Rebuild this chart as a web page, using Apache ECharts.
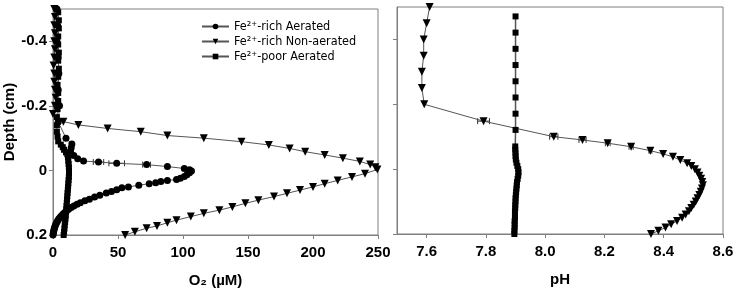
<!DOCTYPE html>
<html>
<head>
<meta charset="utf-8">
<script src="https://cdn.jsdelivr.net/npm/echarts@6/dist/echarts.min.js"></script>
<style>
  html, body { margin: 0; padding: 0; background: #fff; }
  #plot { width: 737px; height: 293px; }
</style>
</head>
<body>
<div id="plot"></div>
<script>
// 系列名称
var seriesNames = ['Fe²⁺-rich Aerated', 'Fe²⁺-rich Non-aerated', 'Fe²⁺-poor Aerated'];

// 左图 O2 —— Fe-rich Aerated (圆点)
var richAerDepth = [-0.5, -0.45, -0.4, -0.35, -0.3, -0.25, -0.2, -0.15, -0.1, -0.082, -0.07, -0.06, -0.046, -0.036,
  -0.029, -0.026, -0.022, -0.018, -0.012, -0.006, -0.002, 0.002, 0.007, 0.013, 0.019, 0.024, 0.028, 0.031, 0.034,
  0.038, 0.041, 0.046, 0.051, 0.054, 0.06, 0.065, 0.07, 0.077, 0.082, 0.089, 0.094, 0.1, 0.105, 0.11, 0.115, 0.12,
  0.125, 0.13, 0.135, 0.14, 0.145, 0.15, 0.155, 0.16, 0.165, 0.17, 0.175, 0.18, 0.185, 0.19, 0.195, 0.2];
var richAerO2 = [3, 3.5, 3, 4, 4.5, 4, 5, 4, 10, 14.5, 14, 13.5, 16, 19,
  23.5, 35, 49, 72, 88, 101, 105, 106.5, 105, 103, 101, 98, 95, 88, 83,
  79, 74, 66, 58, 53, 49, 45, 41, 36, 32, 28, 24.5, 21, 18.5, 16, 14, 12,
  10.5, 9, 7.7, 6.5, 5.5, 4.5, 3.7, 3, 2.4, 1.8, 1.4, 1, 0.7, 0.4, 0.2, 0];

// 左图 O2 —— Fe-rich Non-aerated (倒三角)
var richNonDepth = [-0.5, -0.475, -0.45, -0.425, -0.4, -0.375, -0.35, -0.325, -0.3, -0.275, -0.25, -0.225, -0.2, -0.175,
  -0.151, -0.141, -0.13, -0.12, -0.108, -0.1, -0.089, -0.079, -0.068, -0.058, -0.048, -0.038, -0.028, -0.018, -0.01, -0.003,
  0.01, 0.02, 0.031, 0.041, 0.051, 0.061, 0.071, 0.081, 0.092, 0.102, 0.113, 0.123, 0.133, 0.143, 0.154, 0.162, 0.172,
  0.179, 0.19, 0.2];
var richNonO2 = [1, 1.5, 1, 1.5, 1, 1.5, 1, 0.5, 1, 1, 1.5, 2, 1.5, 0,
  8, 19.5, 42, 67.5, 88, 116, 145, 166, 182, 194, 209, 223, 236, 244, 248, 249.5,
  240, 230, 219, 209, 200, 190, 180, 170, 158, 148, 138, 128, 116, 106, 95, 88, 80,
  72, 63, 55.5];

// 左图 O2 —— Fe-poor Aerated (方块)
var poorAerDepth = [-0.49, -0.465, -0.44, -0.415, -0.39, -0.365, -0.34, -0.315, -0.29, -0.265, -0.24, -0.215, -0.19,
  -0.165, -0.14, -0.12, -0.105, -0.09, -0.08, -0.072, -0.064, -0.056, -0.05, -0.04, -0.03, -0.02, -0.01, 0, 0.01,
  0.02, 0.03, 0.04, 0.05, 0.06, 0.07, 0.08, 0.09, 0.1, 0.11, 0.12, 0.13, 0.14, 0.15, 0.16, 0.17, 0.18, 0.19, 0.2];
var poorAerO2 = [4, 4.5, 4.5, 4, 4, 4.5, 4, 4.5, 4, 3.5, 4, 4, 3.5,
  3, 3, 3, 3.5, 4, 6, 7.5, 8.5, 10, 11, 11.5, 11.8, 12, 12.2, 12.3, 12.3,
  12.2, 12, 11.8, 11.6, 11.4, 11.2, 11, 10.8, 10.6, 10.4, 10.2, 10, 9.8, 9.6, 9.3, 9, 8.8, 8.5, 8.2];

// 右图 pH —— Fe-rich Non-aerated
var phNonDepth = [-0.5, -0.45, -0.4, -0.35, -0.3, -0.25, -0.2, -0.148, -0.1, -0.09, -0.08, -0.069, -0.057, -0.047,
  -0.038, -0.028, -0.018, -0.01, 0, 0.01, 0.02, 0.03, 0.04, 0.05, 0.06, 0.07, 0.08, 0.09, 0.1, 0.11, 0.12, 0.13,
  0.14, 0.15, 0.16, 0.17, 0.18, 0.19, 0.2];
var phNonVal = [7.61, 7.6, 7.59, 7.59, 7.584, 7.584, 7.592, 7.792, 8.029, 8.126, 8.211, 8.29, 8.355, 8.398,
  8.431, 8.456, 8.479, 8.493, 8.505, 8.514, 8.52, 8.526, 8.53, 8.532, 8.529, 8.525, 8.52, 8.514, 8.508, 8.501, 8.493, 8.485,
  8.474, 8.462, 8.445, 8.425, 8.406, 8.382, 8.357];

// 右图 pH —— Fe-poor Aerated
var phPoorDepth = [-0.471, -0.421, -0.371, -0.321, -0.271, -0.221, -0.171, -0.121, -0.07, -0.06, -0.05, -0.04, -0.03,
  -0.02, -0.01, 0, 0.01, 0.02, 0.03, 0.04, 0.05, 0.06, 0.07, 0.08, 0.09, 0.1, 0.11, 0.12, 0.13, 0.14, 0.15, 0.16,
  0.17, 0.18, 0.19, 0.2];
var phPoorVal = [7.9, 7.9, 7.9, 7.9, 7.9, 7.9, 7.9, 7.9, 7.899, 7.899, 7.9, 7.9, 7.901,
  7.903, 7.906, 7.909, 7.91, 7.909, 7.907, 7.905, 7.904, 7.903, 7.902, 7.901, 7.9, 7.9, 7.899, 7.899, 7.898, 7.898, 7.898, 7.897,
  7.897, 7.897, 7.896, 7.896];

// 误差线
var errO2Depth = [-0.026, -0.022, -0.018];
var errO2Mid = [35, 49, 72];
var errO2Half = [4, 6, 3];
var errPhDepth = [-0.148, -0.1, -0.09, -0.08, -0.069, -0.057];
var errPhMid = [7.792, 8.029, 8.126, 8.211, 8.29, 8.355];
var errPhHalf = [0.02, 0.014, 0.012, 0.008, 0.007, 0.005];

// 刻度
var depthTicks = [-0.4, -0.2, 0, 0.2];
var phTicks = [7.6, 7.8, 8.0, 8.2, 8.4, 8.6];

function pts(xs, ds) {
  return xs.map(function (x, i) { return [x, ds[i]]; });
}
function errPts(mid, half, ds) {
  return mid.map(function (m, i) { return [m - half[i], m + half[i], ds[i]]; });
}

var myChart = echarts.init(document.getElementById('plot'));

var lblFont = "'Liberation Sans', Arial, sans-serif";
var lblSize = 15;
var axisGray = '#7f7f7f';

function xAxisCfg(idx, extra) {
  return Object.assign({
    gridIndex: idx,
    type: 'value',
    axisLine: { show: true, onZero: false, lineStyle: { color: axisGray } },
    axisTick: { show: true, inside: false, length: 4, lineStyle: { color: axisGray } },
    axisLabel: { color: '#000', fontFamily: lblFont, fontWeight: 'bold', fontSize: lblSize, margin: 10 },
    splitLine: { show: false },
    nameLocation: 'middle',
    nameGap: 38,
    nameTextStyle: { color: '#000', fontFamily: lblFont, fontWeight: 'bold', fontSize: lblSize }
  }, extra);
}

function yAxisCfg(idx, showLabel, extra) {
  return Object.assign({
    gridIndex: idx,
    type: 'value',
    inverse: true,
    min: -0.5,
    max: 0.2,
    axisLine: { show: true, onZero: false, lineStyle: { color: axisGray } },
    axisTick: { show: true, inside: false, length: 4, customValues: depthTicks, lineStyle: { color: axisGray } },
    axisLabel: {
      show: showLabel,
      customValues: depthTicks,
      color: '#000', fontFamily: lblFont, fontWeight: 'bold', fontSize: lblSize, margin: 6,
      formatter: function (v) { return v === 0 ? '0' : v.toFixed(1); }
    },
    splitLine: { show: false }
  }, extra);
}

function errSeries(name, xi, yi, data) {
  return {
    name: name + ' err',
    type: 'custom',
    xAxisIndex: xi,
    yAxisIndex: yi,
    silent: true,
    z: 1,
    data: data,
    renderItem: function (params, api) {
      var a = api.coord([api.value(0), api.value(2)]);
      var b = api.coord([api.value(1), api.value(2)]);
      var st = { stroke: '#333', lineWidth: 1 };
      return {
        type: 'group',
        children: [
          { type: 'line', shape: { x1: a[0], y1: a[1], x2: b[0], y2: b[1] }, style: st },
          { type: 'line', shape: { x1: a[0], y1: a[1] - 3, x2: a[0], y2: a[1] + 3 }, style: st },
          { type: 'line', shape: { x1: b[0], y1: b[1] - 3, x2: b[0], y2: b[1] + 3 }, style: st }
        ]
      };
    }
  };
}

function lineSeries(name, xi, yi, data, symbol, size, rotate, lw) {
  return {
    name: name,
    type: 'line',
    xAxisIndex: xi,
    yAxisIndex: yi,
    data: data,
    symbol: symbol,
    symbolSize: size,
    symbolRotate: rotate,
    showAllSymbol: true,
    animation: false,
    z: 3,
    itemStyle: { color: '#000' },
    lineStyle: { color: '#555', width: lw || 1 }
  };
}

var option = {
  animation: false,
  grid: [
    { left: 53, right: 359, top: 9, bottom: 57, show: true, borderColor: axisGray, borderWidth: 1 },
    { left: 397, right: 14, top: 7, bottom: 59, show: true, borderColor: axisGray, borderWidth: 1 }
  ],
  legend: {
    data: seriesNames,
    orient: 'vertical',
    left: 196,
    top: 15,
    itemWidth: 27,
    itemHeight: 7,
    itemGap: 2,
    textStyle: { color: '#000', fontFamily: "'DejaVu Sans Condensed', 'DejaVu Sans', sans-serif", fontSize: 12.5, lineHeight: 9, padding: [0, 0, 0, 0] }
  },
  xAxis: [
    xAxisCfg(0, { min: 0, max: 250, interval: 50, name: 'O₂ (µM)' }),
    xAxisCfg(1, {
      min: 7.5, max: 8.6, name: 'pH',
      axisTick: { show: true, inside: false, length: 4, customValues: phTicks, lineStyle: { color: axisGray } },
      axisLabel: {
        customValues: phTicks, color: '#000', fontFamily: lblFont, fontWeight: 'bold', fontSize: lblSize, margin: 10,
        formatter: function (v) { return v.toFixed(1); }
      }
    })
  ],
  yAxis: [
    yAxisCfg(0, true, {
      name: 'Depth (cm)', nameLocation: 'middle', nameGap: 35,
      nameTextStyle: { color: '#000', fontFamily: lblFont, fontWeight: 'bold', fontSize: lblSize }
    }),
    yAxisCfg(1, false, {})
  ],
  series: [
    lineSeries(seriesNames[0], 0, 0, pts(richAerO2, richAerDepth), 'circle', 7, 0),
    lineSeries(seriesNames[1], 0, 0, pts(richNonO2, richNonDepth), 'triangle', 8, 180),
    lineSeries(seriesNames[2], 0, 0, pts(poorAerO2, poorAerDepth), 'rect', 6, 0),
    lineSeries(seriesNames[1], 1, 1, pts(phNonVal, phNonDepth), 'triangle', 8, 180),
    lineSeries(seriesNames[2], 1, 1, pts(phPoorVal, phPoorDepth), 'rect', 6, 0, 1.5),
    errSeries('o2', 0, 0, errPts(errO2Mid, errO2Half, errO2Depth)),
    errSeries('ph', 1, 1, errPts(errPhMid, errPhHalf, errPhDepth))
  ]
};

myChart.setOption(option);
</script>
</body>
</html>
